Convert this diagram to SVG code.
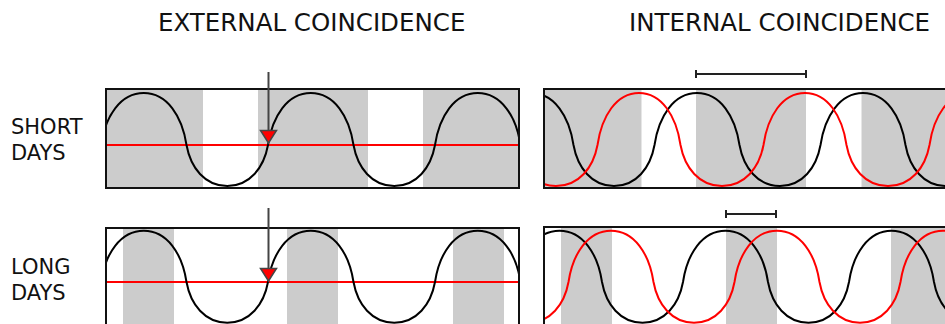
<svg xmlns="http://www.w3.org/2000/svg" width="945" height="324" viewBox="0 0 945 324">
<style>
.t{font-family:"DejaVu Sans","Verdana",sans-serif;fill:#111}
.title{font-size:24.5px}
.lab{font-size:21px}
.box{fill:none;stroke:#111;stroke-width:2}
.gray{fill:#cccccc}
.wk{fill:none;stroke:#000;stroke-width:2}
.wr{fill:none;stroke:#ff0000;stroke-width:2}
.arr{stroke:#444;stroke-width:2;fill:none}
.head{fill:#ff0000;stroke:#444;stroke-width:1.5;stroke-linejoin:miter}
.br{stroke:#222;stroke-width:2;fill:none}
</style>
<defs>
<clipPath id="cTL"><rect x="106" y="89" width="413" height="99"/></clipPath>
<clipPath id="cBL"><rect x="106" y="228" width="413" height="100"/></clipPath>
<clipPath id="cTR"><rect x="544" y="89" width="420" height="99"/></clipPath>
<clipPath id="cBR"><rect x="544" y="227" width="420" height="100"/></clipPath>
</defs>
<rect width="945" height="324" fill="#fff"/>

<g id="titles">
<text class="t title" x="158" y="31">EXTERNAL COINCIDENCE</text>
<text class="t title" x="629" y="31">INTERNAL COINCIDENCE</text>
</g>
<g id="row-labels">
<text class="t lab" x="11" y="134">SHORT</text>
<text class="t lab" x="11" y="160">DAYS</text>
<text class="t lab" x="11" y="273.5">LONG</text>
<text class="t lab" x="11" y="299.5">DAYS</text>
</g>

<g id="external-short">
<rect class="gray" x="106" y="89" width="413" height="99"/>
<rect fill="#fff" x="203" y="89" width="55" height="99"/>
<rect fill="#fff" x="368" y="89" width="55" height="99"/>
<g clip-path="url(#cTL)">
<line class="wr" x1="106" y1="145" x2="519" y2="145"/>
<path class="wk" d="M101,145
c 4.275,-28.6 19.2375,-52 42.75,-52 c 23.5125,0 38.475,23.4 42.75,52
c 4.075,22.55 18.3375,41 40.75,41 c 22.4125,0 36.675,-18.45 40.75,-41
c 4.275,-28.6 19.2375,-52 42.75,-52 c 23.5125,0 38.475,23.4 42.75,52
c 4.075,22.55 18.3375,41 40.75,41 c 22.4125,0 36.675,-18.45 40.75,-41
c 4.275,-28.6 19.2375,-52 42.75,-52 c 23.5125,0 38.475,23.4 42.75,52
c 4.075,22.55 18.3375,41 40.75,41 c 22.4125,0 36.675,-18.45 40.75,-41"/>
</g>
<rect class="box" x="106" y="89" width="413" height="99"/>
</g>

<g id="external-long">
<rect fill="#fff" x="106" y="228" width="413" height="100"/>
<rect class="gray" x="123" y="228" width="51" height="100"/>
<rect class="gray" x="287" y="228" width="51" height="100"/>
<rect class="gray" x="453" y="228" width="51" height="100"/>
<g clip-path="url(#cBL)">
<line class="wr" x1="106" y1="282" x2="519" y2="282"/>
<path class="wk" d="M101,282
c 4.275,-28.215 19.2375,-51.3 42.75,-51.3 c 23.5125,0 38.475,23.085 42.75,51.3
c 4.075,22.385 18.3375,40.7 40.75,40.7 c 22.4125,0 36.675,-18.315 40.75,-40.7
c 4.275,-28.215 19.2375,-51.3 42.75,-51.3 c 23.5125,0 38.475,23.085 42.75,51.3
c 4.075,22.385 18.3375,40.7 40.75,40.7 c 22.4125,0 36.675,-18.315 40.75,-40.7
c 4.275,-28.215 19.2375,-51.3 42.75,-51.3 c 23.5125,0 38.475,23.085 42.75,51.3
c 4.075,22.385 18.3375,40.7 40.75,40.7 c 22.4125,0 36.675,-18.315 40.75,-40.7"/>
</g>
<rect class="box" x="106" y="228" width="413" height="100"/>
</g>

<g id="internal-short">
<rect class="gray" x="544" y="89" width="420" height="99"/>
<rect fill="#fff" x="641.5" y="89" width="54.5" height="99"/>
<rect fill="#fff" x="806" y="89" width="55.5" height="99"/>
<g clip-path="url(#cTR)">
<path class="wk" d="M488.5,145
c 4.25,-28.6 19.125,-52 42.5,-52 c 23.375,0 38.25,23.4 42.5,52
c 4.05,22.55 18.225,41 40.5,41 c 22.275,0 36.45,-18.45 40.5,-41
c 4.25,-28.6 19.125,-52 42.5,-52 c 23.375,0 38.25,23.4 42.5,52
c 4.05,22.55 18.225,41 40.5,41 c 22.275,0 36.45,-18.45 40.5,-41
c 4.25,-28.6 19.125,-52 42.5,-52 c 23.375,0 38.25,23.4 42.5,52
c 4.05,22.55 18.225,41 40.5,41 c 22.275,0 36.45,-18.45 40.5,-41"/>
<path class="wr" d="M514.5,145
c 4.15,22.55 18.675,41 41.5,41 c 22.825,0 37.35,-18.45 41.5,-41
c 4.15,-28.6 18.675,-52 41.5,-52 c 22.825,0 37.35,23.4 41.5,52
c 4.15,22.55 18.675,41 41.5,41 c 22.825,0 37.35,-18.45 41.5,-41
c 4.15,-28.6 18.675,-52 41.5,-52 c 22.825,0 37.35,23.4 41.5,52
c 4.15,22.55 18.675,41 41.5,41 c 22.825,0 37.35,-18.45 41.5,-41
c 4.15,-28.6 18.675,-52 41.5,-52 c 22.825,0 37.35,23.4 41.5,52"/>
</g>
<rect class="box" x="544" y="89" width="420" height="99"/>
</g>

<g id="internal-long">
<rect fill="#fff" x="544" y="227" width="420" height="100"/>
<rect class="gray" x="561" y="227" width="51" height="100"/>
<rect class="gray" x="726" y="227" width="51" height="100"/>
<rect class="gray" x="891" y="227" width="54" height="100"/>
<g clip-path="url(#cBR)">
<path class="wk" d="M436,282
c 4.05,22.385 18.225,40.7 40.5,40.7 c 22.275,0 36.45,-18.315 40.5,-40.7
c 4.25,-28.215 19.125,-51.3 42.5,-51.3 c 23.375,0 38.25,23.085 42.5,51.3
c 4.05,22.385 18.225,40.7 40.5,40.7 c 22.275,0 36.45,-18.315 40.5,-40.7
c 4.25,-28.215 19.125,-51.3 42.5,-51.3 c 23.375,0 38.25,23.085 42.5,51.3
c 4.05,22.385 18.225,40.7 40.5,40.7 c 22.275,0 36.45,-18.315 40.5,-40.7
c 4.25,-28.215 19.125,-51.3 42.5,-51.3 c 23.375,0 38.25,23.085 42.5,51.3
c 4.05,22.385 18.225,40.7 40.5,40.7 c 22.275,0 36.45,-18.315 40.5,-40.7"/>
<path class="wr" d="M487.5,282
c 4.05,22.385 18.225,40.7 40.5,40.7 c 22.275,0 36.45,-18.315 40.5,-40.7
c 4.25,-28.215 19.125,-51.3 42.5,-51.3 c 23.375,0 38.25,23.085 42.5,51.3
c 4.05,22.385 18.225,40.7 40.5,40.7 c 22.275,0 36.45,-18.315 40.5,-40.7
c 4.25,-28.215 19.125,-51.3 42.5,-51.3 c 23.375,0 38.25,23.085 42.5,51.3
c 4.05,22.385 18.225,40.7 40.5,40.7 c 22.275,0 36.45,-18.315 40.5,-40.7
c 4.25,-28.215 19.125,-51.3 42.5,-51.3 c 23.375,0 38.25,23.085 42.5,51.3"/>
</g>
<rect class="box" x="544" y="227" width="420" height="100"/>
</g>

<g id="connectors">
<line class="arr" x1="268.5" y1="72" x2="268.5" y2="131"/>
<polygon class="head" points="260.5,130.5 276.5,130.5 268.5,143"/>
<line class="arr" x1="268.5" y1="208" x2="268.5" y2="268.5"/>
<polygon class="head" points="260.5,268.5 276.5,268.5 268.5,281"/>
<path class="br" d="M696,74 H806 M696,70 V78 M806,70 V78"/>
<path class="br" d="M726,214 H776 M726,210 V218 M776,210 V218"/>
</g>
</svg>
